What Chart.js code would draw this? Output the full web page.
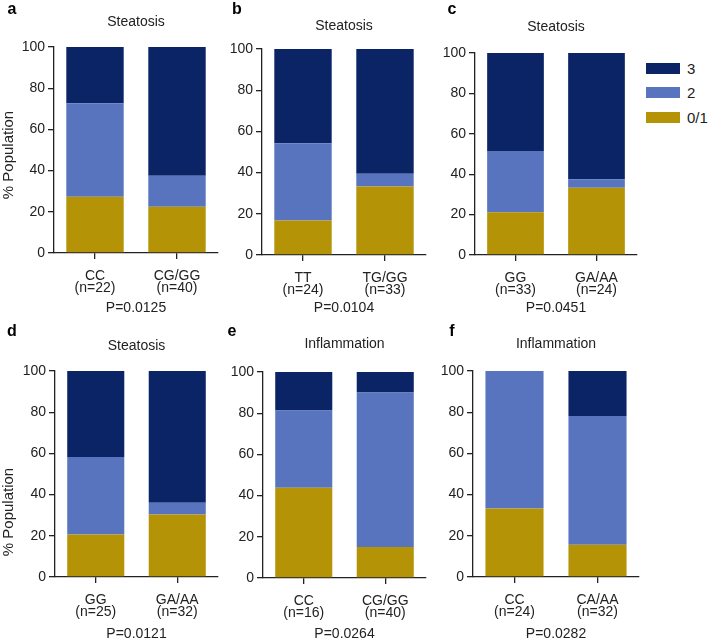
<!DOCTYPE html>
<html>
<head>
<meta charset="utf-8">
<script src="https://cdn.jsdelivr.net/npm/chart.js@4.4.1/dist/chart.umd.min.js"></script>
<style>
  html, body { margin: 0; padding: 0; background: #fff; }
  body { width: 709px; height: 641px; position: relative; overflow: hidden;
         font-family: 'Liberation Sans', Arial, sans-serif; color: #222; }
  canvas { position: absolute; }
  #legend { position: absolute; left: 646px; top: 56px; }
  .lg-row { display: flex; align-items: center; height: 24.5px; }
  .lg-box { width: 34px; height: 11px; margin-right: 7px; }
  .lg-txt { font-size: 15px; line-height: 15px; }
</style>
</head>
<body>
<div id="legend"></div>
<script>
// ---- data (% of each genotype group) ----
const grades = ['0/1', '2', '3'];
const panelLetters = ['a', 'b', 'c', 'd', 'e', 'f'];
const panelTitles = ['Steatosis', 'Steatosis', 'Steatosis', 'Steatosis', 'Inflammation', 'Inflammation'];
const genotypes = [['CC', 'CG/GG'], ['TT', 'TG/GG'], ['GG', 'GA/AA'], ['GG', 'GA/AA'], ['CC', 'CG/GG'], ['CC', 'CA/AA']];
const sampleSizes = [[22, 40], [24, 33], [33, 24], [25, 32], [16, 40], [24, 32]];
const pValues = ['0.0125', '0.0104', '0.0451', '0.0121', '0.0264', '0.0282'];
const grade01 = [[27.3, 22.5], [16.7, 33.3], [21.2, 33.3], [20.6, 30.3], [43.8, 15.0], [33.3, 15.6]];
const grade2  = [[45.4, 15.0], [37.5, 6.1], [30.3, 4.2], [37.7, 5.8], [37.5, 75.0], [66.7, 62.5]];
const grade3  = [[27.3, 62.5], [45.8, 60.6], [48.5, 62.5], [41.7, 63.9], [18.7, 10.0], [0, 21.9]];
const yTicks = [0, 20, 40, 60, 80, 100];

// ---- look ----
const COLORS = ['#b49307', '#5874bf', '#0b2465'];
const INK = '#222';
const FONT = "'Liberation Sans', Arial, sans-serif";

// page layout of each panel: canvas box and plot box (absolute px)
const frames = [
  { x: 0,   y: 0,   w: 222, h: 320, left: 54,  right: 218, top: 47,  bottom: 253, titleY: 22,  pY: 308, lx: 12,  ly: 10,  yLabelY: 155 },
  { x: 222, y: 0,   w: 218, h: 320, left: 262, right: 426, top: 49,  bottom: 255, titleY: 26,  pY: 308, lx: 237, ly: 10 },
  { x: 440, y: 0,   w: 210, h: 320, left: 475, right: 637, top: 53,  bottom: 255, titleY: 27,  pY: 308, lx: 452, ly: 10 },
  { x: 0,   y: 320, w: 222, h: 321, left: 55,  right: 218, top: 371, bottom: 577, titleY: 346, pY: 634, lx: 12,  ly: 332, yLabelY: 512 },
  { x: 222, y: 320, w: 218, h: 321, left: 263, right: 426, top: 372, bottom: 578, titleY: 344, pY: 634, lx: 232, ly: 332 },
  { x: 440, y: 320, w: 210, h: 321, left: 473, right: 639, top: 371, bottom: 577, titleY: 344, pY: 634, lx: 452, ly: 332 }
];

const series = [grade01, grade2, grade3];

// panel letter, title over the plot area, optional y-axis label
const panelText = {
  id: 'panelText',
  afterDraw(chart, args, opts) {
    const f = opts.frame;
    const ctx = chart.ctx;
    const area = chart.chartArea;
    ctx.save();
    ctx.textAlign = 'center';
    ctx.textBaseline = 'middle';
    ctx.fillStyle = '#000';
    ctx.font = 'bold 16px ' + FONT;
    ctx.fillText(opts.letter, f.lx - f.x, f.ly - f.y);
    ctx.fillStyle = INK;
    ctx.font = '14px ' + FONT;
    ctx.fillText(opts.title, (area.left + area.right) / 2, f.titleY - f.y);
    if (f.yLabelY) {
      ctx.translate(9 - f.x, f.yLabelY - f.y);
      ctx.rotate(-Math.PI / 2);
      ctx.font = '15px ' + FONT;
      ctx.fillText('% Population', 0, 0);
    }
    ctx.restore();
  }
};

function makePanel(i) {
  const f = frames[i];
  const canvas = document.createElement('canvas');
  canvas.width = f.w;
  canvas.height = f.h;
  canvas.style.left = f.x + 'px';
  canvas.style.top = f.y + 'px';
  canvas.style.width = f.w + 'px';
  canvas.style.height = f.h + 'px';
  document.body.appendChild(canvas);

  const pSize = 14;
  const ppb = (f.y + f.h) - f.pY - pSize / 2;

  new Chart(canvas, {
    type: 'bar',
    plugins: [panelText],
    data: {
      labels: genotypes[i].map((g, k) => [g, '(n=' + sampleSizes[i][k] + ')']),
      datasets: grades.map((g, s) => ({
        label: g,
        data: series[s][i],
        backgroundColor: COLORS[s],
        borderWidth: 0,
        barPercentage: 0.7,
        categoryPercentage: 1.0
      }))
    },
    options: {
      responsive: false,
      animation: false,
      events: [],
      layout: { padding: { left: 0, top: f.top - f.y, bottom: 0, right: f.x + f.w - f.right } },
      plugins: {
        legend: { display: false },
        tooltip: { enabled: false },
        panelText: { frame: f, letter: panelLetters[i], title: panelTitles[i] }
      },
      scales: {
        x: {
          stacked: true,
          offset: true,
          afterFit: s => { s.height = f.y + f.h - f.bottom; },
          border: { display: true, color: INK, width: 1.3 },
          grid: { display: true, offset: false, drawOnChartArea: false, drawTicks: true,
                  tickLength: 6, color: INK, lineWidth: 1.3 },
          ticks: {
            color: INK, padding: 11, maxRotation: 0, autoSkip: false,
            font: { family: FONT, size: 14, lineHeight: 0.85 }
          },
          title: {
            display: true,
            text: 'P=' + pValues[i],
            color: INK,
            font: { family: FONT, size: pSize, lineHeight: 1 },
            padding: { top: 0, bottom: ppb }
          }
        },
        y: {
          stacked: true,
          min: 0,
          max: 100,
          afterFit: s => { s.width = f.left - f.x; },
          afterBuildTicks: s => { s.ticks = yTicks.map(v => ({ value: v })); },
          border: { display: true, color: INK, width: 1.3 },
          grid: { display: true, drawOnChartArea: false, drawTicks: true,
                  tickLength: 6, color: INK, lineWidth: 1.3 },
          ticks: {
            color: INK, padding: 3,
            font: { family: FONT, size: 14 }
          }
        }
      }
    }
  });
}

frames.forEach((f, i) => makePanel(i));

// legend (top to bottom: 3, 2, 0/1)
const legend = document.getElementById('legend');
grades.slice().reverse().forEach(g => {
  const s = grades.indexOf(g);
  const row = document.createElement('div');
  row.className = 'lg-row';
  const box = document.createElement('div');
  box.className = 'lg-box';
  box.style.background = COLORS[s];
  const txt = document.createElement('span');
  txt.className = 'lg-txt';
  txt.textContent = g;
  row.appendChild(box);
  row.appendChild(txt);
  legend.appendChild(row);
});
</script>
</body>
</html>
